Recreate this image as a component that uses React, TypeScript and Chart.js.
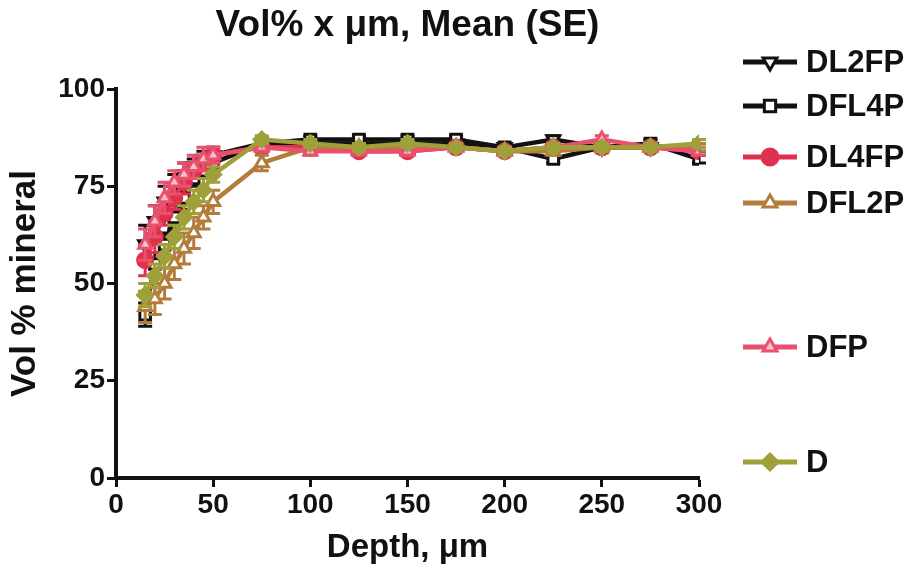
import React, { useEffect, useRef } from "react";
import { Chart, registerables } from "chart.js";
import { drawPoint } from "chart.js/helpers";

Chart.register(...registerables);

const depths = [15, 20, 25, 30, 35, 40, 45, 50, 75, 100, 125, 150, 175, 200, 225, 250, 275, 300];

const seriesNames = ["DL2FP", "DFL4P", "DL4FP", "DFL2P", "DFP", "D"];

const dl2fp = [60, 66, 71, 75, 78, 80, 82, 83, 86, 86, 86, 86, 86, 85, 87, 85, 85, 85];
const dl2fpSE = [5, 4, 4, 3, 3, 2, 2, 2, 1, 1, 1, 1, 1, 1, 1, 1, 1, 1];

const dfl4p = [42, 55, 60, 67, 72, 77, 79, 81, 86, 87, 87, 87, 87, 85, 82, 85, 86, 82];
const dfl4pSE = [3, 3, 3, 3, 3, 2, 2, 2, 1, 1, 1, 1, 1, 1, 1, 1, 1, 1];

const dl4fp = [56, 62, 68, 72, 76, 79, 81, 83, 85, 85, 84, 84, 85, 84, 85, 85, 85, 84];
const dl4fpSE = [4, 4, 3, 3, 3, 2, 2, 2, 1, 1, 1, 1, 1, 1, 1, 1, 1, 1];

const dfl2p = [44, 46, 50, 55, 59, 63, 67, 71, 81, 85, 85, 85, 85, 84, 84, 85, 85, 85];
const dfl2pSE = [4, 4, 4, 4, 4, 4, 3, 3, 2, 1, 1, 1, 1, 1, 1, 1, 1, 1];

const dfp = [60, 66, 72, 76, 78, 80, 82, 83, 85, 84, 84, 84, 85, 84, 85, 87, 85, 84];
const dfpSE = [4, 4, 4, 3, 3, 3, 3, 2, 1, 1, 1, 1, 1, 1, 1, 1, 1, 1];

const dOnly = [47, 52, 57, 62, 67, 71, 74, 78, 87, 86, 85, 86, 85, 84, 85, 85, 85, 86];
const dOnlySE = [3, 3, 3, 3, 3, 3, 3, 2, 1, 1, 1, 1, 1, 1, 1, 1, 1, 1];

const yTicks = [0, 25, 50, 75, 100];
const xTicks = [0, 50, 100, 150, 200, 250, 300];

const FONT = "'Liberation Sans', Arial, sans-serif";

const styles = [
  { color: "#111111", fill: "#ffffff", point: "triangle", rotation: 180 },
  { color: "#111111", fill: "#ffffff", point: "rect", rotation: 0 },
  { color: "#e0304f", fill: "#e0304f", point: "circle", rotation: 0 },
  { color: "#b47c3c", fill: "#ffffff", point: "triangle", rotation: 0 },
  { color: "#e8506e", fill: "#f7c0cc", point: "triangle", rotation: 0 },
  { color: "#a0a03a", fill: "#a0a03a", point: "rectRot", rotation: 0 },
];

const values = [dl2fp, dfl4p, dl4fp, dfl2p, dfp, dOnly];
const errors = [dl2fpSE, dfl4pSE, dl4fpSE, dfl2pSE, dfpSE, dOnlySE];

const legendY = [62, 106, 157, 203, 347, 462];

const errorBars = {
  id: "errorBars",
  beforeDatasetDraw(chart: any, args: any) {
    const i = args.index;
    const meta = chart.getDatasetMeta(i);
    const ys = chart.scales.y;
    const ctx = chart.ctx;
    const se = errors[i];
    const vals = values[i];
    ctx.save();
    ctx.strokeStyle = styles[i].color;
    ctx.lineWidth = 3;
    meta.data.forEach((pt: any, j: number) => {
      const top = ys.getPixelForValue(vals[j] + se[j]);
      const bot = ys.getPixelForValue(vals[j] - se[j]);
      ctx.beginPath();
      ctx.moveTo(pt.x, top);
      ctx.lineTo(pt.x, bot);
      ctx.moveTo(pt.x - 7, top);
      ctx.lineTo(pt.x + 7, top);
      ctx.moveTo(pt.x - 7, bot);
      ctx.lineTo(pt.x + 7, bot);
      ctx.stroke();
    });
    ctx.restore();
  },
};

const sideLegend = {
  id: "sideLegend",
  afterDraw(chart: any) {
    const ctx = chart.ctx;
    ctx.save();
    seriesNames.forEach((name, i) => {
      const y = legendY[i];
      const s = styles[i];
      ctx.strokeStyle = s.color;
      ctx.lineWidth = 5;
      ctx.beginPath();
      ctx.moveTo(743, y);
      ctx.lineTo(797, y);
      ctx.stroke();
      ctx.fillStyle = s.fill;
      ctx.lineWidth = 3;
      drawPoint(ctx, { pointStyle: s.point, radius: 8, rotation: s.rotation, borderWidth: 3 } as any, 770, y);
      ctx.fillStyle = "#111111";
      ctx.font = `bold 31px ${FONT}`;
      ctx.textAlign = "left";
      ctx.textBaseline = "middle";
      ctx.fillText(name, 806, y + 1);
    });
    ctx.restore();
  },
};

export default function App() {
  const ref = useRef<HTMLCanvasElement | null>(null);
  useEffect(() => {
    if (!ref.current) return;
    const datasets = seriesNames.map((name, i) => ({
      label: name,
      data: depths.map((d, j) => ({ x: d, y: values[i][j] })),
      order: seriesNames.length - 1 - i,
      borderColor: styles[i].color,
      backgroundColor: styles[i].fill,
      pointBorderColor: styles[i].color,
      pointBackgroundColor: styles[i].fill,
      pointStyle: styles[i].point as any,
      pointRotation: styles[i].rotation,
      pointRadius: 7.5,
      pointBorderWidth: 3,
      borderWidth: 4.5,
      tension: 0,
    }));
    const chart = new Chart(ref.current, {
      type: "line",
      data: { datasets },
      plugins: [errorBars, sideLegend],
      options: {
        animation: false,
        responsive: false,
        maintainAspectRatio: false,
        layout: { padding: { left: 0, right: 211, top: 0, bottom: 0 } },
        plugins: {
          legend: { display: false },
          tooltip: { enabled: false },
          title: {
            display: true,
            text: "Vol% x \u03bcm, Mean (SE)",
            fullSize: false,
            color: "#111111",
            font: { family: FONT, size: 37, weight: "bold" },
            padding: { top: 4, bottom: 40.6 },
          },
        },
        scales: {
          x: {
            type: "linear",
            min: 0,
            max: 300,
            afterBuildTicks: (s: any) => {
              s.ticks = xTicks.map((v) => ({ value: v }));
            },
            afterFit: (s: any) => {
              s.height = 94;
            },
            ticks: {
              color: "#111111",
              font: { family: FONT, size: 28, weight: "bold" },
              padding: 1,
            },
            grid: { drawOnChartArea: false, tickLength: 9, tickWidth: 3, color: "#111111" },
            border: { color: "#111111", width: 4 },
            title: {
              display: true,
              text: "Depth, \u03bcm",
              color: "#111111",
              font: { family: FONT, size: 33, weight: "bold" },
              padding: { top: 0 },
            },
          },
          y: {
            type: "linear",
            min: 0,
            max: 100,
            afterBuildTicks: (s: any) => {
              s.ticks = yTicks.map((v) => ({ value: v }));
            },
            afterFit: (s: any) => {
              s.width = 116;
            },
            ticks: {
              color: "#111111",
              font: { family: FONT, size: 28, weight: "bold" },
              padding: 2,
            },
            grid: { drawOnChartArea: false, tickLength: 9, tickWidth: 3, color: "#111111" },
            border: { color: "#111111", width: 4 },
            title: {
              display: true,
              text: "Vol % mineral",
              color: "#111111",
              font: { family: FONT, size: 35, weight: "bold" },
              padding: { bottom: 0 },
            },
          },
        },
      },
    });
    return () => chart.destroy();
  }, []);
  return (
    <div style={{ position: "fixed", left: 0, top: 0, width: 910, height: 572, background: "#ffffff" }}>
      <canvas ref={ref} width={910} height={572} />
    </div>
  );
}
